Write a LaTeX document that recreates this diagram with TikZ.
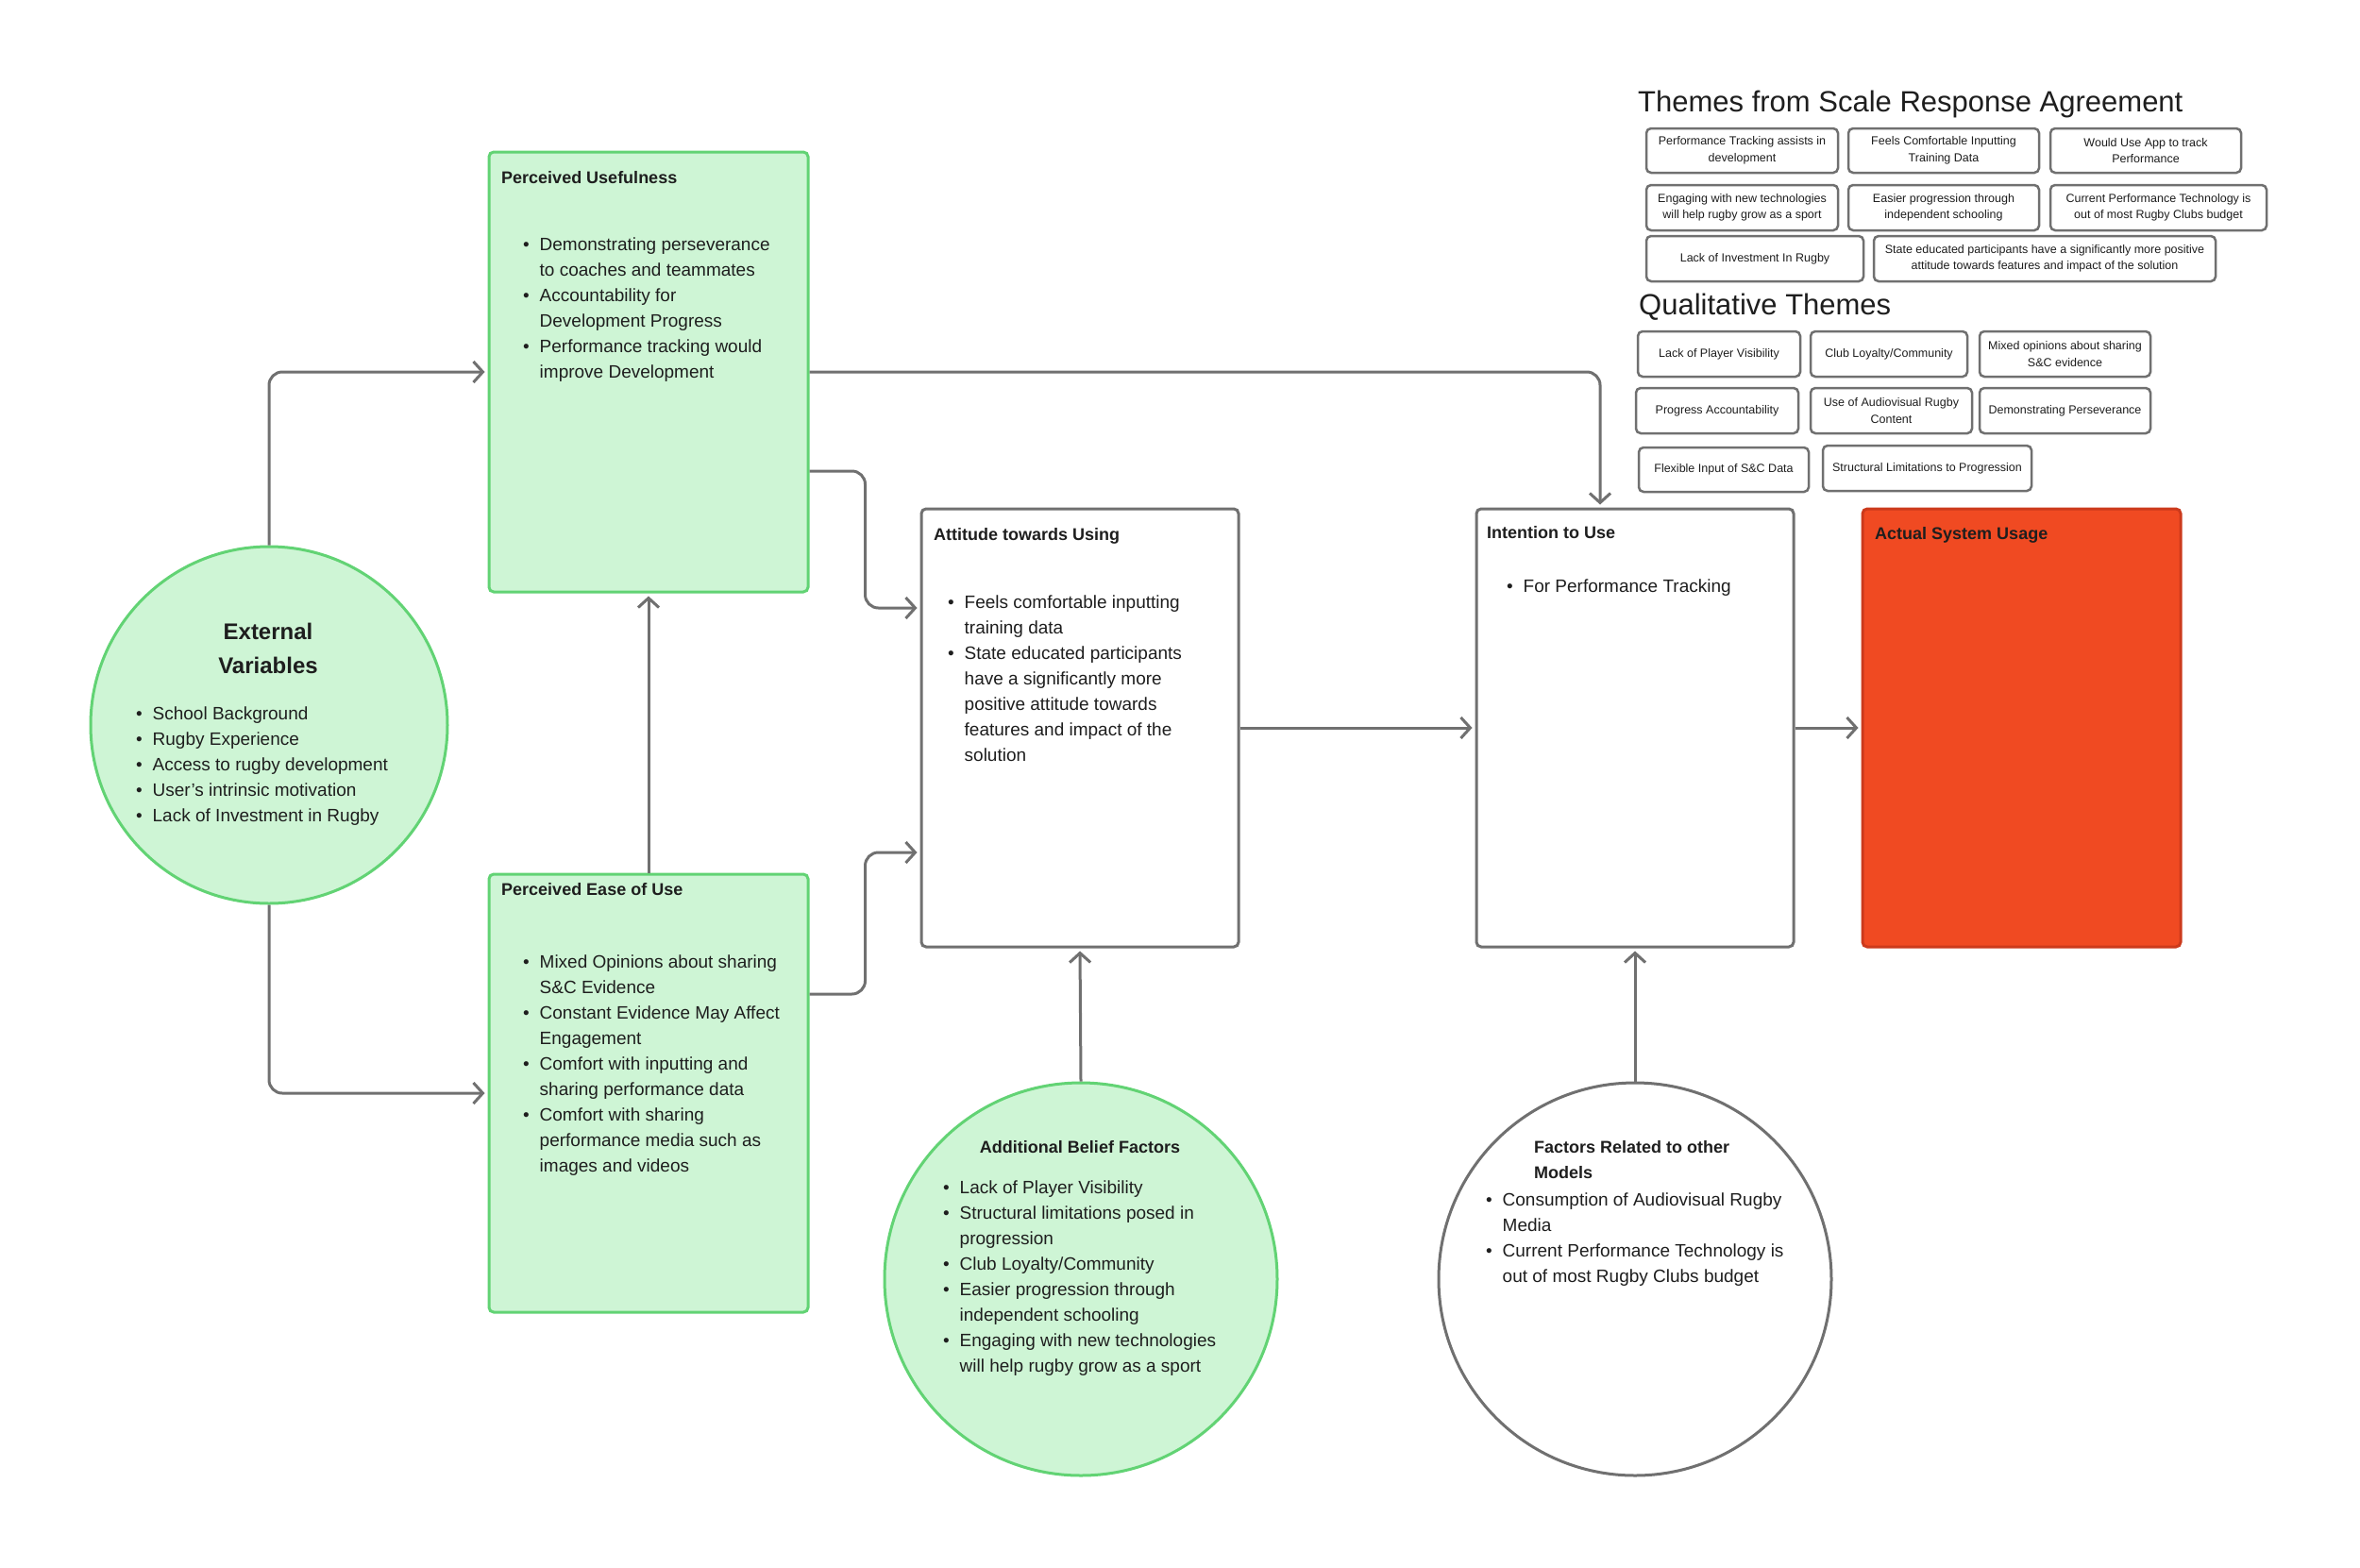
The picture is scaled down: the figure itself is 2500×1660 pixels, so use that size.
\documentclass[tikz,border=0pt]{standalone}
\usepackage{fontspec}
\setmainfont{Liberation Sans}
\usetikzlibrary{arrows.meta,calc}
\definecolor{conn}{HTML}{707070}
\definecolor{gfill}{HTML}{CEF5D5}
\definecolor{gline}{HTML}{62D374}
\definecolor{rfill}{HTML}{F04A22}
\definecolor{rline}{HTML}{CC3A1C}
\definecolor{txt}{HTML}{1E1E1E}
\newcommand\bodyf{\fontsize{19pt}{27pt}\selectfont}
\newcommand\titf{\fontsize{18pt}{27pt}\selectfont\bfseries}
\newcommand\bigtitf{\fontsize{24pt}{36pt}\selectfont\bfseries}
\newcommand\themef{\fontsize{12.5pt}{17.5pt}\selectfont}
\newcommand\headf{\fontsize{31pt}{36pt}\selectfont}
\newcommand\bl[1]{\makebox[17.5pt][l]{\textbullet}&#1\\}
\newcommand\cl[1]{&#1\\}
\newenvironment{blist}{\begin{tabular}[t]{@{}l@{}l@{}}}{\end{tabular}}
\tikzset{
  box/.style={draw=conn, line width=3pt, rounded corners=5pt, fill=white, inner sep=0pt},
  gbox/.style={box, draw=gline, fill=gfill},
  rbox/.style={box, draw=rline, fill=rfill},
  circ/.style={circle, draw=conn, line width=3pt, fill=white, inner sep=0pt},
  gcirc/.style={circ, draw=gline, fill=gfill},
  thm/.style={draw=conn, line width=2.5pt, rounded corners=5pt, align=center, font=\themef, inner sep=0pt, text=txt},
  arr/.style={draw=conn, line width=3pt, rounded corners=14pt, -{Straight Barb[length=10pt,width=22pt]}, shorten >=3pt},
  txtn/.style={inner sep=0pt, text=txt},
  titn/.style={txtn, anchor=base west, font=\titf},
  listn/.style={txtn, anchor=base west, font=\bodyf},
}
\begin{document}
\begin{tikzpicture}[x=1pt,y=-1pt]
\useasboundingbox[fill=white] (0,0) rectangle (2500,1660);

% main boxes
\node[gbox, minimum width=338pt, minimum height=466pt] (pu) at (687,394) {};
\node[gbox, minimum width=338pt, minimum height=464pt] (peou) at (687,1158) {};
\node[box, minimum width=336pt, minimum height=464pt] (att) at (1144,771) {};
\node[box, minimum width=336pt, minimum height=464pt] (int) at (1732,771) {};
\node[rbox, minimum width=337pt, minimum height=464pt] (act) at (2141.5,771) {};
\node[gcirc, minimum size=378pt] (ext) at (285,768) {};
\node[gcirc, minimum size=416pt] (abf) at (1145,1355) {};
\node[circ, minimum size=416pt] (fr) at (1732,1355) {};

% texts
\node[titn] (pu-t) at (531,194) {Perceived Usefulness};
\node[listn] (pu-l) at (554,265) {\begin{blist}
\bl{Demonstrating perseverance}\cl{to coaches and teammates}
\bl{Accountability for}\cl{Development Progress}
\bl{Performance tracking would}\cl{improve Development}
\end{blist}};

\node[titn] (peou-t) at (531,948) {Perceived Ease of Use};
\node[listn] (peou-l) at (554,1025) {\begin{blist}
\bl{Mixed Opinions about sharing}\cl{S\&C Evidence}
\bl{Constant Evidence May Affect}\cl{Engagement}
\bl{Comfort with inputting and}\cl{sharing performance data}
\bl{Comfort with sharing}\cl{performance media such as}\cl{images and videos}
\end{blist}};

\node[titn] (att-t) at (989,572) {Attitude towards Using};
\node[listn] (att-l) at (1004,644) {\begin{blist}
\bl{Feels comfortable inputting}\cl{training data}
\bl{State educated participants}\cl{have a significantly more}\cl{positive attitude towards}\cl{features and impact of the}\cl{solution}
\end{blist}};

\node[titn] (int-t) at (1575,570) {Intention to Use};
\node[listn] (int-l) at (1596,627) {\begin{blist}
\bl{For Performance Tracking}
\end{blist}};

\node[titn] (act-t) at (1986,571) {Actual System Usage};

\node[txtn, font=\bigtitf, align=center, anchor=base] (ext-t) at (284,713) {External\\Variables};
\node[listn] (ext-l) at (144,762) {\begin{blist}
\bl{School Background}
\bl{Rugby Experience}
\bl{Access to rugby development}
\bl{User’s intrinsic motivation}
\bl{Lack of Investment in Rugby}
\end{blist}};

\node[txtn, font=\titf, anchor=base] (abf-t) at (1144,1221) {Additional Belief Factors};
\node[listn] (abf-l) at (999,1264) {\begin{blist}
\bl{Lack of Player Visibility}
\bl{Structural limitations posed in}\cl{progression}
\bl{Club Loyalty/Community}
\bl{Easier progression through}\cl{independent schooling}
\bl{Engaging with new technologies}\cl{will help rugby grow as a sport}
\end{blist}};

\node[txtn, font=\titf, anchor=base west, align=left] (fr-t) at (1625,1248) {Factors Related to other\\Models};
\node[listn] (fr-l) at (1574,1277) {\begin{blist}
\bl{Consumption of Audiovisual Rugby}\cl{Media}
\bl{Current Performance Technology is}\cl{out of most Rugby Clubs budget}
\end{blist}};

% connectors
\draw[arr] (ext.north) |- (pu.west);
\draw[arr] (ext.south) |- (peou.west);
\draw[arr] (peou.north) -- (pu.south);
\draw[arr] ([yshift=-105pt]pu.east) -- ++(59,0) |- ([yshift=127pt]att.west);
\draw[arr] ([yshift=105pt]peou.east) -- ++(59,0) |- ([yshift=-132pt]att.west);
\draw[arr] (pu.east) -| ([xshift=-37pt]int.north);
\draw[arr] (att.east) -- (int.west);
\draw[arr] (int.east) -- (act.west);
\draw[arr] (abf.north) -- (att.south);
\draw[arr] (fr.north) -- (int.south);

% theme headers
\node[txtn, anchor=base west, font=\headf] (h1) at (1735,118) {Themes from Scale Response Agreement};
\node[txtn, anchor=base west, font=\headf] (h2) at (1736,333) {Qualitative Themes};

% theme boxes
\node[thm, minimum width=203pt, minimum height=47pt] (s1) at (1845.5,159.5) {Performance Tracking assists in\\development};
\node[thm, minimum width=202pt, minimum height=47pt] (s2) at (2059,159.5) {Feels Comfortable Inputting\\Training Data};
\node[thm, minimum width=202pt, minimum height=47pt] (s3) at (2273,159.5) {Would Use App to track\\Performance};
\node[thm, minimum width=203pt, minimum height=48pt] (s4) at (1845.5,220) {Engaging with new technologies\\will help rugby grow as a sport};
\node[thm, minimum width=202pt, minimum height=48pt] (s5) at (2059,220) {Easier progression through\\independent schooling};
\node[thm, minimum width=229pt, minimum height=48pt] (s6) at (2286.5,220) {Current Performance Technology is\\out of most Rugby Clubs budget};
\node[thm, minimum width=230pt, minimum height=48pt] (s7) at (1859,274) {Lack of Investment In Rugby};
\node[thm, minimum width=362pt, minimum height=48pt] (s8) at (2166,274) {State educated participants have a significantly more positive\\attitude towards features and impact of the solution};

\node[thm, minimum width=172pt, minimum height=48pt] (q1) at (1821,375) {Lack of Player Visibility};
\node[thm, minimum width=166pt, minimum height=48pt] (q2) at (2001,375) {Club Loyalty/Community};
\node[thm, minimum width=181pt, minimum height=48pt] (q3) at (2187.5,375) {Mixed opinions about sharing\\S\&C evidence};
\node[thm, minimum width=172pt, minimum height=48pt] (q4) at (1819,435) {Progress Accountability};
\node[thm, minimum width=171pt, minimum height=48pt] (q5) at (2003.5,435) {Use of Audiovisual Rugby\\Content};
\node[thm, minimum width=181pt, minimum height=48pt] (q6) at (2187.5,435) {Demonstrating Perseverance};
\node[thm, minimum width=180pt, minimum height=47pt] (q7) at (1826,497.5) {Flexible Input of S\&C Data};
\node[thm, minimum width=221pt, minimum height=48pt] (q8) at (2041.5,496) {Structural Limitations to Progression};
\end{tikzpicture}
\end{document}
